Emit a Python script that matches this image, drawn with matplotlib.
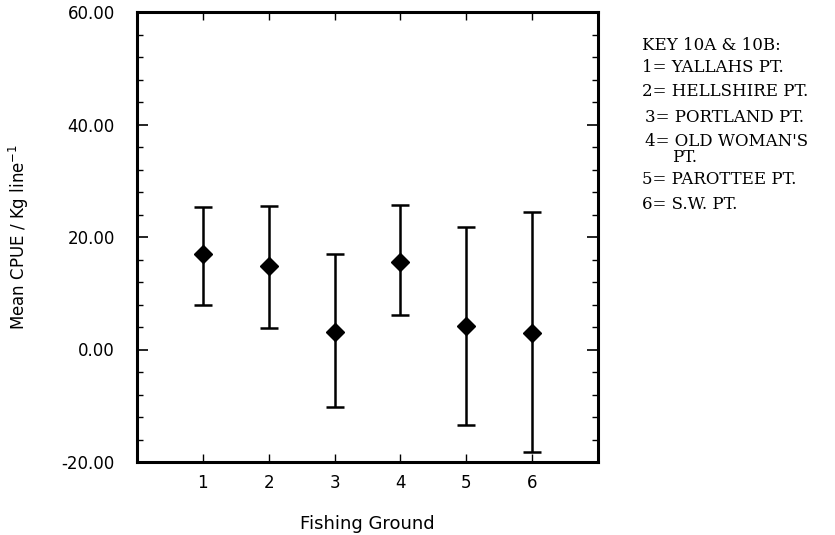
import matplotlib
matplotlib.use("Agg")
import matplotlib.pyplot as plt
from matplotlib.ticker import MultipleLocator, FormatStrFormatter

grounds = [1, 2, 3, 4, 5, 6]
mean_cpue = [17.0, 14.9, 3.2, 15.5, 4.2, 3.0]
upper = [25.3, 25.5, 17.0, 25.7, 21.8, 24.4]
lower = [7.9, 3.8, -10.3, 6.1, -13.4, -18.3]
key_lines = ["KEY 10A & 10B:", "1= YALLAHS PT.", "2= HELLSHIRE PT.", "3= PORTLAND PT.",
             "4= OLD WOMAN'S", "PT.", "5= PAROTTEE PT.", "6= S.W. PT."]

fig = plt.figure(figsize=(8.35, 5.35), dpi=100)
ax = fig.add_axes([137/835, 1-462/535, (598-137)/835, (462-12)/535])

yerr = [[m - l for m, l in zip(mean_cpue, lower)], [u - m for m, u in zip(mean_cpue, upper)]]
ax.errorbar(grounds, mean_cpue, yerr=yerr, fmt='D', color='black', markersize=9,
            ecolor='black', elinewidth=1.8, capsize=6.5, capthick=1.8)

ax.set_xlim(0, 7)
ax.set_ylim(-20, 60)
ax.set_xticks(grounds)
ax.yaxis.set_major_locator(MultipleLocator(20))
ax.yaxis.set_minor_locator(MultipleLocator(4))
ax.yaxis.set_major_formatter(FormatStrFormatter('%.2f'))
ax.tick_params(axis='both', which='both', direction='in', top=True, right=True, labelsize=12)
ax.tick_params(axis='y', which='major', length=8, width=1.2, pad=16)
ax.tick_params(axis='y', which='minor', length=4, width=1.0)
ax.tick_params(axis='x', which='major', length=6, width=1.0, pad=9)
for s in ax.spines.values():
    s.set_linewidth(2.2)

ax.set_xlabel('Fishing Ground', fontsize=13, labelpad=16)
ax.set_ylabel(r'Mean CPUE / Kg line$^{-1}$', fontsize=12, labelpad=22)

ys = [45, 68, 91, 118, 141, 157, 180, 205]
xs = [642, 642, 642, 645, 645, 672, 642, 642]
for t, x, y in zip(key_lines, xs, ys):
    fig.text(x/835, 1 - y/535, t, fontsize=12, family='DejaVu Serif', va='center', ha='left')

fig.savefig('out.png', dpi=100)
